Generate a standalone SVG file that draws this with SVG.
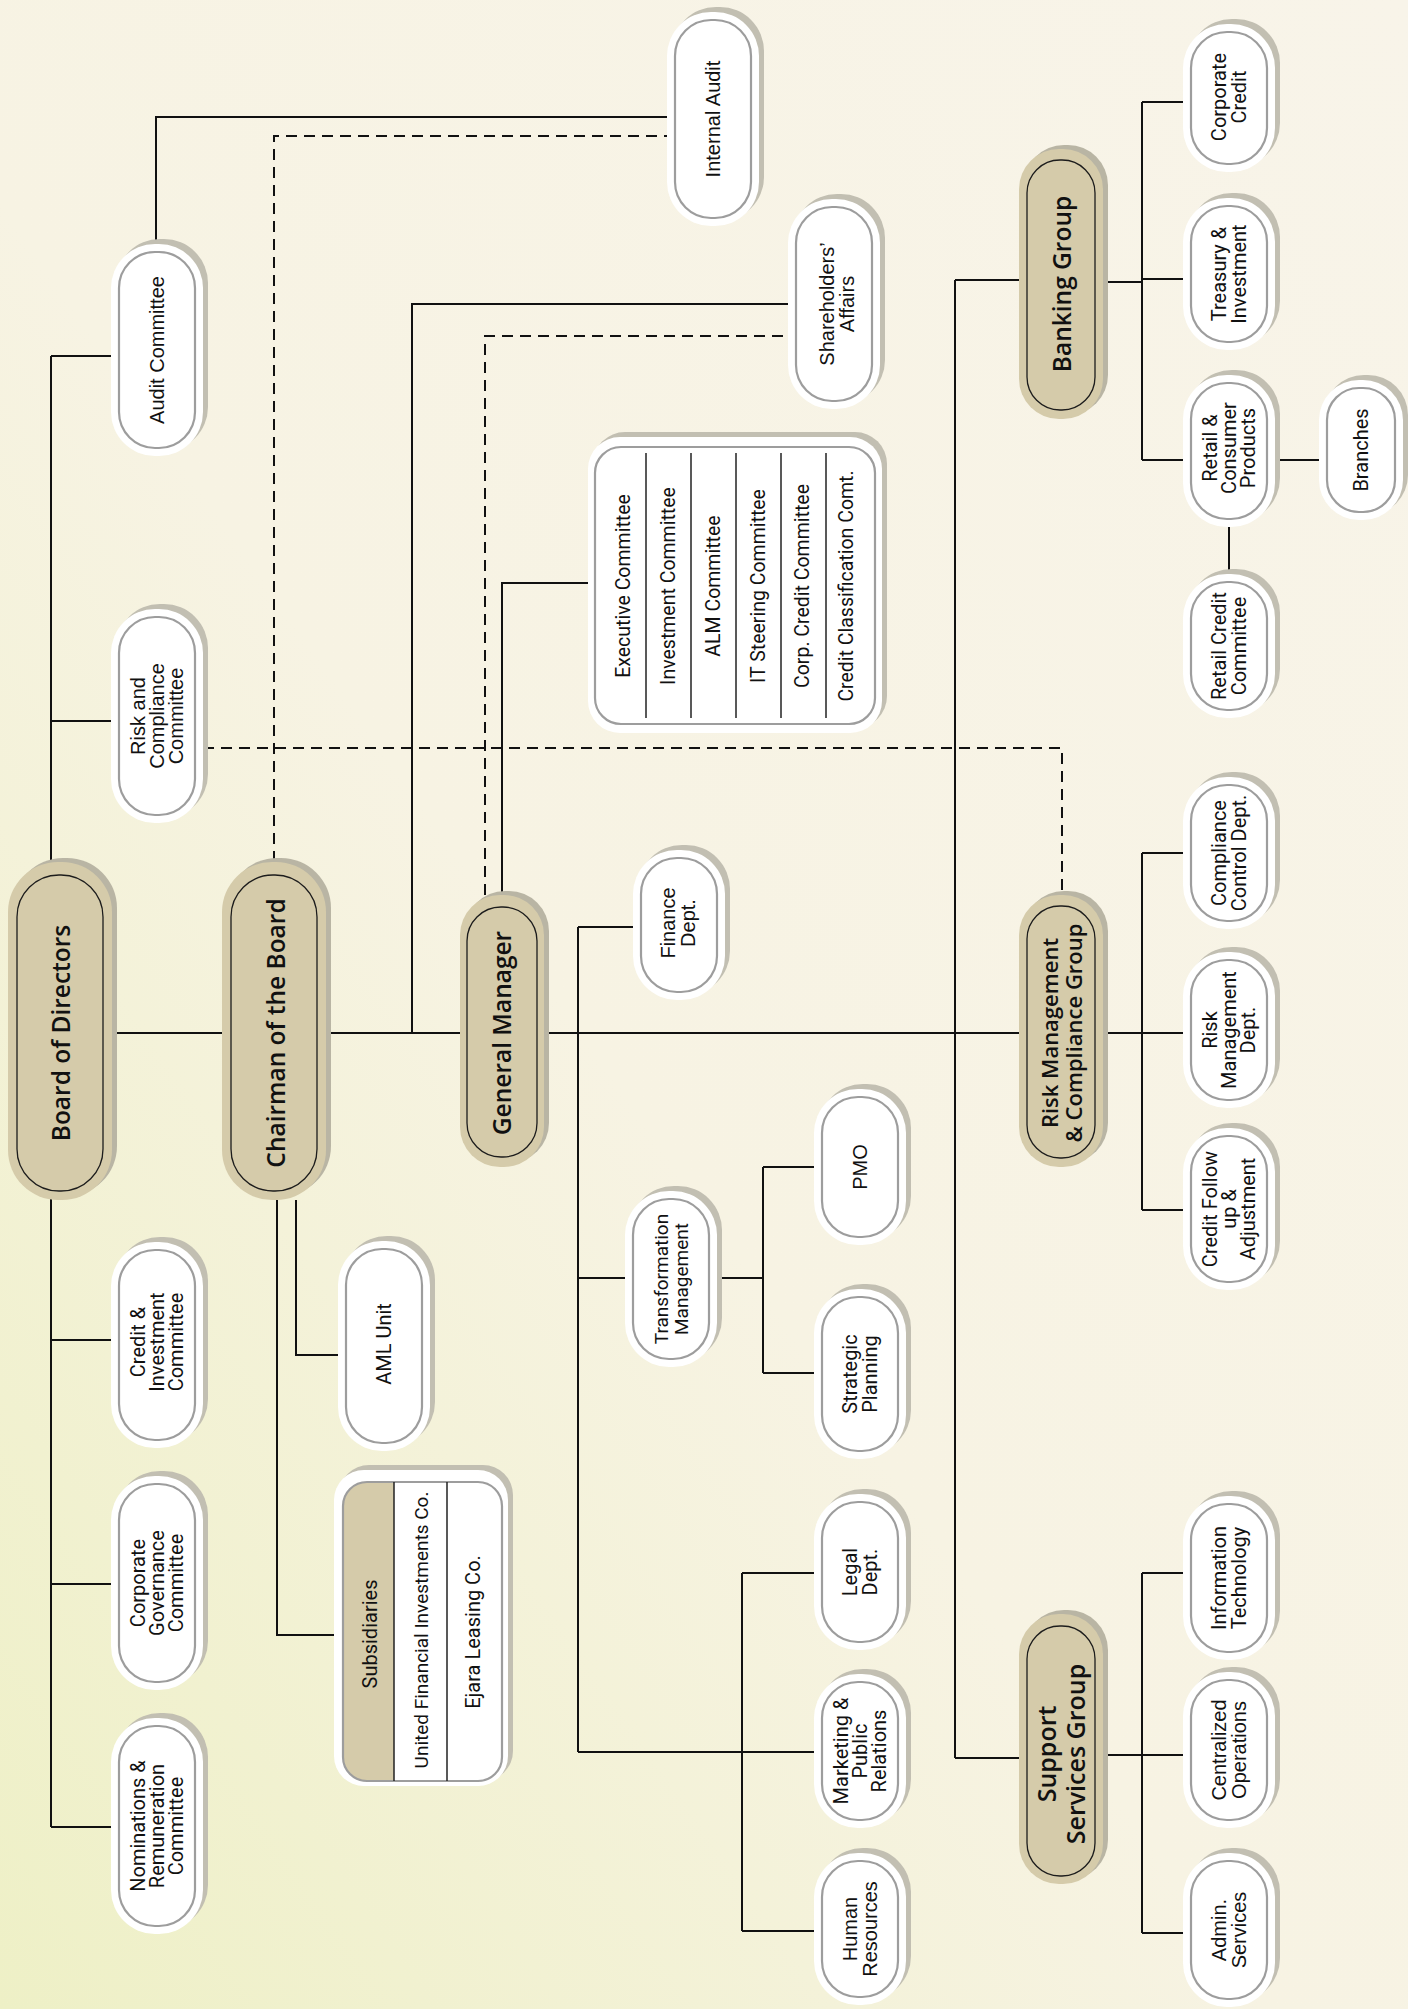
<svg xmlns="http://www.w3.org/2000/svg" width="1408" height="2009" viewBox="0 0 1408 2009">
<defs>
<linearGradient id="bg" x1="1" y1="0" x2="0" y2="1">
<stop offset="0" stop-color="#f8f4e9"/>
<stop offset="0.55" stop-color="#f7f3e3"/>
<stop offset="1" stop-color="#eef0c6"/>
</linearGradient>
<clipPath id="subclip"><rect x="343" y="1482" width="159" height="299" rx="24"/></clipPath>
<style>
.ln{stroke:#111;stroke-width:2;fill:none}
.dl{stroke:#111;stroke-width:2;fill:none;stroke-dasharray:11 7}
.sh{fill:#c2bfb2}
.wo{fill:#fff}
.wi{fill:#fff;stroke:#9d9d9d;stroke-width:2.2}
.psh{fill:#b9b5a4}
.po{fill:#d5cbaa}
.pi{fill:#d5cbaa;stroke:#1c1c1c;stroke-width:1.3}
.t{font-family:'Liberation Sans',Arial,sans-serif;font-size:20px;fill:#111;text-anchor:middle}
.r{font-family:Roboto,'Liberation Sans',sans-serif;font-size:20px;fill:#111;text-anchor:middle}
.p{font-family:'Open Sans','Noto Sans',sans-serif;font-weight:600;font-size:24.5px;fill:#111;text-anchor:middle}
.dv{stroke:#222;stroke-width:1.5}
</style>
</defs>
<rect x="0" y="0" width="1408" height="2009" fill="url(#bg)"/>

<g id="connectors">
<path class="ln" d="M51 356V1827M51 356H111M51 721H111M51 1340H111M51 1584H111M51 1827H111"/>
<path class="ln" d="M113 1033H222M326 1033H460M543 1033H1019"/>
<path class="ln" d="M156 244V117H667"/>
<path class="dl" d="M274 862V136H667"/>
<path class="ln" d="M412 1033V304H788"/>
<path class="dl" d="M485 895V336H788"/>
<path class="ln" d="M502 895V583H588"/>
<path class="dl" d="M203 748H1062V895"/>
<path class="ln" d="M296 1200V1355H338M277 1200V1635H334"/>
<path class="ln" d="M578 927V1752M578 927H633M578 1278H625M578 1752H814"/>
<path class="ln" d="M716 1278H763M763 1167V1373M763 1167H814M763 1373H814"/>
<path class="ln" d="M742 1573V1931M742 1573H814M742 1931H814"/>
<path class="ln" d="M955 280V1758M955 280H1019M955 1758H1019"/>
<path class="ln" d="M1103 282H1142M1142 102V460M1142 102H1183M1142 279H1183M1142 460H1183"/>
<path class="ln" d="M1275 460H1319M1229 527V574"/>
<path class="ln" d="M1103 1033H1142M1142 853V1210M1142 853H1183M1142 1033H1183M1142 1210H1183"/>
<path class="ln" d="M1103 1755H1142M1142 1573V1933M1142 1573H1183M1142 1755H1183M1142 1933H1183"/>
</g>

<g id="board">
<rect class="psh" x="13" y="858" width="104" height="338" rx="50"/>
<rect class="po" x="8" y="862" width="104" height="338" rx="50"/>
<rect class="pi" x="17" y="875" width="86" height="316" rx="42"/>
<text class="p" transform="translate(61 1033) rotate(-90)"><tspan x="0" y="8.6">Board of Directors</tspan></text>
</g>
<g id="chairman">
<rect class="psh" x="227" y="858" width="104" height="338" rx="50"/>
<rect class="po" x="222" y="862" width="104" height="338" rx="50"/>
<rect class="pi" x="231" y="875" width="86" height="316" rx="42"/>
<text class="p" transform="translate(276 1033) rotate(-90)"><tspan x="0" y="8.6">Chairman of the Board</tspan></text>
</g>
<g id="gm">
<rect class="psh" x="465" y="891" width="84" height="272" rx="40"/>
<rect class="po" x="460" y="895" width="84" height="272" rx="40"/>
<rect class="pi" x="467" y="907" width="70" height="250" rx="34"/>
<text class="p" transform="translate(502 1033) rotate(-90)"><tspan x="0" y="8.6">General Manager</tspan></text>
</g>
<g id="banking">
<rect class="psh" x="1024" y="145" width="84" height="270" rx="40"/>
<rect class="po" x="1019" y="149" width="84" height="270" rx="40"/>
<rect class="pi" x="1027" y="160" width="68" height="250" rx="33"/>
<text class="p" transform="translate(1062 284) rotate(-90)"><tspan x="0" y="8.6">Banking Group</tspan></text>
</g>
<g id="riskgroup">
<rect class="psh" x="1024" y="891" width="84" height="272" rx="40"/>
<rect class="po" x="1019" y="895" width="84" height="272" rx="40"/>
<rect class="pi" x="1027" y="906" width="68" height="252" rx="33"/>
<text class="p" style="font-size:22px" transform="translate(1062 1033) rotate(-90)"><tspan x="0" y="-4.3">Risk Management</tspan><tspan x="0" y="19.7">&amp; Compliance Group</tspan></text>
</g>
<g id="support">
<rect class="psh" x="1024" y="1610" width="84" height="270" rx="40"/>
<rect class="po" x="1019" y="1614" width="84" height="270" rx="40"/>
<rect class="pi" x="1027" y="1626" width="68" height="250" rx="33"/>
<text class="p" style="font-size:25px" transform="translate(1062 1754) rotate(-90)"><tspan x="0" y="-5.75">Support</tspan><tspan x="0" y="23.25">Services Group</tspan></text>
</g>

<g id="audit-committee">
<rect class="sh" x="116" y="239" width="92" height="212" rx="44"/>
<rect class="wo" x="111" y="244" width="92" height="212" rx="44"/>
<rect class="wi" x="119" y="252" width="76" height="196" rx="36"/>
<text class="t" transform="translate(157 350) rotate(-90)"><tspan x="0" y="7">Audit Committee</tspan></text>
</g>
<g id="internal-audit">
<rect class="sh" x="672" y="7" width="92" height="214" rx="44"/>
<rect class="wo" x="667" y="12" width="92" height="214" rx="44"/>
<rect class="wi" x="675" y="20" width="76" height="198" rx="36"/>
<text class="t" transform="translate(713 119) rotate(-90)"><tspan x="0" y="7">Internal Audit</tspan></text>
</g>
<g id="shareholders">
<rect class="sh" x="793" y="194" width="92" height="210" rx="44"/>
<rect class="wo" x="788" y="199" width="92" height="210" rx="44"/>
<rect class="wi" x="796" y="207" width="76" height="194" rx="36"/>
<text class="t" transform="translate(837 304) rotate(-90)"><tspan x="0" y="-2.75">Shareholders’</tspan><tspan x="0" y="16.75">Affairs</tspan></text>
</g>
<g id="risk-compliance-committee">
<rect class="sh" x="116" y="604" width="92" height="214" rx="44"/>
<rect class="wo" x="111" y="609" width="92" height="214" rx="44"/>
<rect class="wi" x="119" y="617" width="76" height="198" rx="36"/>
<text class="t" transform="translate(157 716) rotate(-90)"><tspan x="0" y="-12">Risk and</tspan><tspan x="0" y="7">Compliance</tspan><tspan x="0" y="26">Committee</tspan></text>
</g>
<g id="credit-investment-committee">
<rect class="sh" x="116" y="1237" width="92" height="206" rx="44"/>
<rect class="wo" x="111" y="1242" width="92" height="206" rx="44"/>
<rect class="wi" x="119" y="1250" width="76" height="190" rx="36"/>
<text class="r" transform="translate(157 1342) rotate(-90)"><tspan x="0" y="-12">Credit &amp;</tspan><tspan x="0" y="7">Investment</tspan><tspan x="0" y="26">Committee</tspan></text>
</g>
<g id="corporate-governance-committee">
<rect class="sh" x="116" y="1471" width="92" height="214" rx="44"/>
<rect class="wo" x="111" y="1476" width="92" height="214" rx="44"/>
<rect class="wi" x="119" y="1484" width="76" height="198" rx="36"/>
<text class="r" transform="translate(157 1583) rotate(-90)"><tspan x="0" y="-12">Corporate</tspan><tspan x="0" y="7">Governance</tspan><tspan x="0" y="26">Committee</tspan></text>
</g>
<g id="nominations-committee">
<rect class="sh" x="116" y="1713" width="92" height="216" rx="44"/>
<rect class="wo" x="111" y="1718" width="92" height="216" rx="44"/>
<rect class="wi" x="119" y="1726" width="76" height="200" rx="36"/>
<text class="r" transform="translate(157 1826) rotate(-90)"><tspan x="0" y="-12">Nominations &amp;</tspan><tspan x="0" y="7">Remuneration</tspan><tspan x="0" y="26">Committee</tspan></text>
</g>
<g id="aml-unit">
<rect class="sh" x="343" y="1236" width="92" height="210" rx="44"/>
<rect class="wo" x="338" y="1241" width="92" height="210" rx="44"/>
<rect class="wi" x="346" y="1249" width="76" height="194" rx="36"/>
<text class="r" transform="translate(384 1344) rotate(-90)"><tspan x="0" y="7">AML Unit</tspan></text>
</g>
<g id="subsidiaries">
<rect class="sh" x="339" y="1465" width="174" height="316" rx="30"/>
<rect class="wo" x="334" y="1470" width="174" height="316" rx="30"/>
<rect x="343" y="1482" width="51" height="299" fill="#d5cbaa" clip-path="url(#subclip)"/>
<rect x="343" y="1482" width="159" height="299" rx="24" fill="none" stroke="#9d9d9d" stroke-width="2.2"/>
<line class="dv" x1="394" y1="1482" x2="394" y2="1781"/>
<line class="dv" x1="447" y1="1482" x2="447" y2="1781"/>
<text class="r" transform="translate(370 1634) rotate(-90)"><tspan x="0" y="7">Subsidiaries</tspan></text>
<text class="r" style="font-size:19px" transform="translate(421 1630) rotate(-90)"><tspan x="0" y="6.7">United Financial Investments Co.</tspan></text>
<text class="r" transform="translate(473 1632) rotate(-90)"><tspan x="0" y="7">Ejara Leasing Co.</tspan></text>
</g>
<g id="committees">
<rect class="sh" x="593" y="432" width="294" height="296" rx="32"/>
<rect class="wo" x="588" y="437" width="294" height="296" rx="32"/>
<rect x="595" y="447" width="280" height="277" rx="26" fill="#fff" stroke="#9d9d9d" stroke-width="2.2"/>
<line class="dv" x1="646" y1="453" x2="646" y2="718"/>
<line class="dv" x1="691" y1="453" x2="691" y2="718"/>
<line class="dv" x1="736" y1="453" x2="736" y2="718"/>
<line class="dv" x1="781" y1="453" x2="781" y2="718"/>
<line class="dv" x1="826" y1="453" x2="826" y2="718"/>
<text class="r" style="font-size:19.5px" transform="translate(623 586) rotate(-90)"><tspan x="0" y="7">Executive Committee</tspan></text>
<text class="r" style="font-size:19.5px" transform="translate(668 586) rotate(-90)"><tspan x="0" y="7">Investment Committee</tspan></text>
<text class="r" style="font-size:19.5px" transform="translate(713 586) rotate(-90)"><tspan x="0" y="7">ALM Committee</tspan></text>
<text class="r" style="font-size:19.5px" transform="translate(758 586) rotate(-90)"><tspan x="0" y="7">IT Steering Committee</tspan></text>
<text class="r" style="font-size:19.5px" transform="translate(802 586) rotate(-90)"><tspan x="0" y="7">Corp. Credit Committee</tspan></text>
<text class="r" style="font-size:19.5px" transform="translate(846 586) rotate(-90)"><tspan x="0" y="7">Credit Classification Comt.</tspan></text>
</g>
<g id="finance">
<rect class="sh" x="638" y="845" width="92" height="150" rx="44"/>
<rect class="wo" x="633" y="850" width="92" height="150" rx="44"/>
<rect class="wi" x="641" y="858" width="76" height="134" rx="36"/>
<text class="t" transform="translate(678 923) rotate(-90)"><tspan x="0" y="-2.75">Finance</tspan><tspan x="0" y="16.75">Dept.</tspan></text>
</g>
<g id="transformation">
<rect class="sh" x="630" y="1186" width="92" height="176" rx="44"/>
<rect class="wo" x="625" y="1191" width="92" height="176" rx="44"/>
<rect class="wi" x="633" y="1199" width="76" height="160" rx="36"/>
<text class="r" style="font-size:19px" transform="translate(671 1279) rotate(-90)"><tspan x="0" y="-2.75">Transformation</tspan><tspan x="0" y="16.75">Management</tspan></text>
</g>
<g id="pmo">
<rect class="sh" x="819" y="1084" width="92" height="156" rx="44"/>
<rect class="wo" x="814" y="1089" width="92" height="156" rx="44"/>
<rect class="wi" x="822" y="1097" width="76" height="140" rx="36"/>
<text class="t" transform="translate(860 1167) rotate(-90)"><tspan x="0" y="7">PMO</tspan></text>
</g>
<g id="strategic">
<rect class="sh" x="819" y="1284" width="92" height="170" rx="44"/>
<rect class="wo" x="814" y="1289" width="92" height="170" rx="44"/>
<rect class="wi" x="822" y="1297" width="76" height="154" rx="36"/>
<text class="r" transform="translate(860 1374) rotate(-90)"><tspan x="0" y="-2.75">Strategic</tspan><tspan x="0" y="16.75">Planning</tspan></text>
</g>
<g id="legal">
<rect class="sh" x="819" y="1489" width="92" height="156" rx="44"/>
<rect class="wo" x="814" y="1494" width="92" height="156" rx="44"/>
<rect class="wi" x="822" y="1502" width="76" height="140" rx="36"/>
<text class="r" transform="translate(860 1572) rotate(-90)"><tspan x="0" y="-2.75">Legal</tspan><tspan x="0" y="16.75">Dept.</tspan></text>
</g>
<g id="marketing">
<rect class="sh" x="819" y="1669" width="92" height="154" rx="44"/>
<rect class="wo" x="814" y="1674" width="92" height="154" rx="44"/>
<rect class="wi" x="822" y="1682" width="76" height="138" rx="36"/>
<text class="r" transform="translate(860 1751) rotate(-90)"><tspan x="0" y="-12">Marketing &amp;</tspan><tspan x="0" y="7">Public</tspan><tspan x="0" y="26">Relations</tspan></text>
</g>
<g id="hr">
<rect class="sh" x="819" y="1848" width="92" height="152" rx="44"/>
<rect class="wo" x="814" y="1853" width="92" height="152" rx="44"/>
<rect class="wi" x="822" y="1861" width="76" height="136" rx="36"/>
<text class="t" transform="translate(860 1929) rotate(-90)"><tspan x="0" y="-2.75">Human</tspan><tspan x="0" y="16.75">Resources</tspan></text>
</g>
<g id="corporate-credit">
<rect class="sh" x="1188" y="19" width="92" height="148" rx="44"/>
<rect class="wo" x="1183" y="24" width="92" height="148" rx="44"/>
<rect class="wi" x="1191" y="32" width="76" height="132" rx="36"/>
<text class="r" transform="translate(1229 97) rotate(-90)"><tspan x="0" y="-2.75">Corporate</tspan><tspan x="0" y="16.75">Credit</tspan></text>
</g>
<g id="treasury">
<rect class="sh" x="1188" y="193" width="92" height="152" rx="44"/>
<rect class="wo" x="1183" y="198" width="92" height="152" rx="44"/>
<rect class="wi" x="1191" y="206" width="76" height="136" rx="36"/>
<text class="r" transform="translate(1229 274) rotate(-90)"><tspan x="0" y="-2.75">Treasury &amp;</tspan><tspan x="0" y="16.75">Investment</tspan></text>
</g>
<g id="retail">
<rect class="sh" x="1188" y="370" width="92" height="152" rx="44"/>
<rect class="wo" x="1183" y="375" width="92" height="152" rx="44"/>
<rect class="wi" x="1191" y="383" width="76" height="136" rx="36"/>
<text class="r" transform="translate(1229 448) rotate(-90)"><tspan x="0" y="-12">Retail &amp;</tspan><tspan x="0" y="7">Consumer</tspan><tspan x="0" y="26">Products</tspan></text>
</g>
<g id="branches">
<rect class="sh" x="1324" y="375" width="84" height="140" rx="40"/>
<rect class="wo" x="1319" y="380" width="84" height="140" rx="40"/>
<rect class="wi" x="1327" y="388" width="68" height="124" rx="32"/>
<text class="r" transform="translate(1361 450) rotate(-90)"><tspan x="0" y="7">Branches</tspan></text>
</g>
<g id="retail-credit">
<rect class="sh" x="1188" y="569" width="92" height="144" rx="44"/>
<rect class="wo" x="1183" y="574" width="92" height="144" rx="44"/>
<rect class="wi" x="1191" y="582" width="76" height="128" rx="36"/>
<text class="r" transform="translate(1229 646) rotate(-90)"><tspan x="0" y="-2.75">Retail Credit</tspan><tspan x="0" y="16.75">Committee</tspan></text>
</g>
<g id="compliance-control">
<rect class="sh" x="1188" y="772" width="92" height="152" rx="44"/>
<rect class="wo" x="1183" y="777" width="92" height="152" rx="44"/>
<rect class="wi" x="1191" y="785" width="76" height="136" rx="36"/>
<text class="r" transform="translate(1229 853) rotate(-90)"><tspan x="0" y="-2.75">Compliance</tspan><tspan x="0" y="16.75">Control Dept.</tspan></text>
</g>
<g id="risk-management-dept">
<rect class="sh" x="1188" y="947" width="92" height="156" rx="44"/>
<rect class="wo" x="1183" y="952" width="92" height="156" rx="44"/>
<rect class="wi" x="1191" y="960" width="76" height="140" rx="36"/>
<text class="r" transform="translate(1229 1030) rotate(-90)"><tspan x="0" y="-12">Risk</tspan><tspan x="0" y="7">Management</tspan><tspan x="0" y="26">Dept.</tspan></text>
</g>
<g id="credit-follow-up">
<rect class="sh" x="1188" y="1123" width="92" height="162" rx="44"/>
<rect class="wo" x="1183" y="1128" width="92" height="162" rx="44"/>
<rect class="wi" x="1191" y="1136" width="76" height="146" rx="36"/>
<text class="r" transform="translate(1229 1209) rotate(-90)"><tspan x="0" y="-12">Credit Follow</tspan><tspan x="0" y="7">up &amp;</tspan><tspan x="0" y="26">Adjustment</tspan></text>
</g>
<g id="information-technology">
<rect class="sh" x="1188" y="1491" width="92" height="164" rx="44"/>
<rect class="wo" x="1183" y="1496" width="92" height="164" rx="44"/>
<rect class="wi" x="1191" y="1504" width="76" height="148" rx="36"/>
<text class="r" transform="translate(1229 1578) rotate(-90)"><tspan x="0" y="-2.75">Information</tspan><tspan x="0" y="16.75">Technology</tspan></text>
</g>
<g id="centralized-operations">
<rect class="sh" x="1188" y="1667" width="92" height="156" rx="44"/>
<rect class="wo" x="1183" y="1672" width="92" height="156" rx="44"/>
<rect class="wi" x="1191" y="1680" width="76" height="140" rx="36"/>
<text class="t" transform="translate(1229 1750) rotate(-90)"><tspan x="0" y="-2.75">Centralized</tspan><tspan x="0" y="16.75">Operations</tspan></text>
</g>
<g id="admin-services">
<rect class="sh" x="1188" y="1848" width="92" height="154" rx="44"/>
<rect class="wo" x="1183" y="1853" width="92" height="154" rx="44"/>
<rect class="wi" x="1191" y="1861" width="76" height="138" rx="36"/>
<text class="t" transform="translate(1229 1930) rotate(-90)"><tspan x="0" y="-2.75">Admin.</tspan><tspan x="0" y="16.75">Services</tspan></text>
</g>
</svg>
